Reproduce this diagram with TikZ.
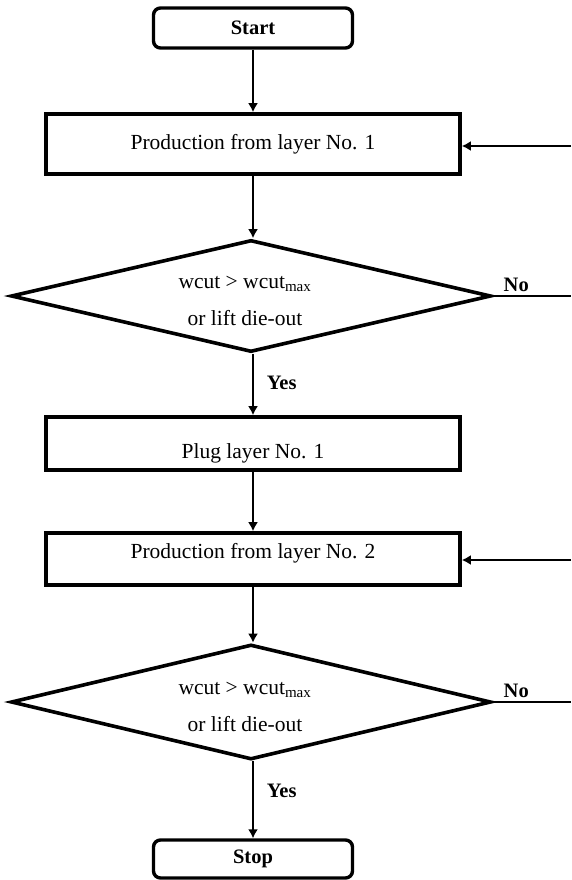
\documentclass[tikz,border=0pt]{standalone}
\usepackage{fontspec}
\setmainfont{Liberation Serif}
\usetikzlibrary{shapes.geometric,arrows.meta,positioning}

\begin{document}
\begin{tikzpicture}[x=1pt,y=-1pt,font=\fontsize{21.5}{26}\selectfont,
  termbox/.style={draw,line width=3.4pt,rounded corners=7pt,minimum width=199pt,font=\fontsize{20.5}{24}\selectfont\bfseries},
  procbox/.style={draw,line width=3.6pt,minimum width=414pt,inner sep=0pt},
  decbox/.style={draw,diamond,line width=3.6pt,minimum width=480pt,inner sep=0pt},
  flow/.style={line width=1.8pt,-{Latex[length=9pt,width=10pt]}},
  link/.style={line width=1.8pt},
  tag/.style={font=\fontsize{20.5}{24}\selectfont\bfseries,inner sep=2pt}]
  \useasboundingbox (0,0) rectangle (571,880);
  % main column
  \node[termbox,minimum height=40pt] (start) at (253,28) {Start};
  \node[procbox,minimum height=60pt,label={center:Production from layer No. 1}] (prod1) at (253,144) {};
  \node[decbox,minimum height=112pt,label={[align=center,xshift=-6pt,yshift=-5pt]center:wcut > wcut\textsubscript{max}\\[11pt]or lift die-out}] (dec1) at (251,296) {};
  \node[procbox,minimum height=53pt,label={[yshift=-10pt]center:Plug layer No. 1}] (plug1) at (253,443.5) {};
  \node[procbox,minimum height=52pt,label={[yshift=6pt]center:Production from layer No. 2}] (prod2) at (253,559) {};
  \node[decbox,minimum height=115pt,label={[align=center,xshift=-6pt,yshift=-5pt]center:wcut > wcut\textsubscript{max}\\[11pt]or lift die-out}] (dec2) at (251,702) {};
  \node[termbox,minimum height=38pt] (stop) at (253,859) {Stop};
  % links down the column
  \draw[flow] (start.south) -- (prod1.north);
  \draw[flow] (prod1.south) -- (prod1.south |- dec1.north);
  \draw[flow] (prod1.south |- dec1.south) -- (plug1.north) node[tag,pos=0.47,right=11pt] {Yes};
  \draw[flow] (plug1.south) -- (prod2.north);
  \draw[flow] (prod2.south) -- (prod2.south |- dec2.north);
  \draw[flow] (prod2.south |- dec2.south) -- (stop.north) node[tag,pos=0.38,right=11pt] {Yes};
  % loose ends on the right
  \coordinate (out1) at (571,296);
  \coordinate (out2) at (571,702);
  \coordinate (back1) at (571,146);
  \coordinate (back2) at (571,560);
  \draw[link] (dec1.east) -- (out1) node[tag,pos=0.3,above=1pt] {No};
  \draw[link] (dec2.east) -- (out2) node[tag,pos=0.3,above=1pt] {No};
  \draw[flow] (back1) -- (back1 -| prod1.east);
  \draw[flow] (back2) -- (back2 -| prod2.east);
\end{tikzpicture}
\end{document}
